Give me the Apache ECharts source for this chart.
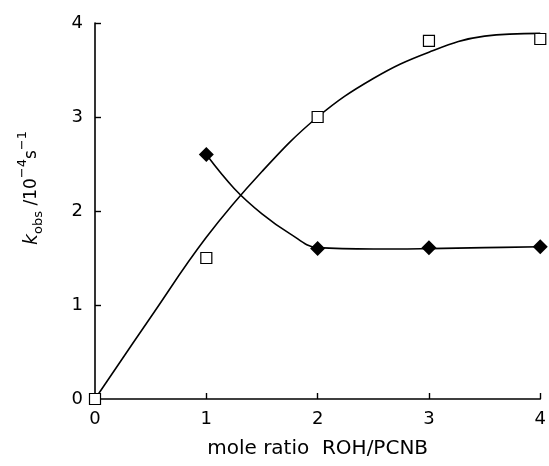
<!DOCTYPE html>
<html>
<head>
<meta charset="utf-8">
<script src="https://cdn.jsdelivr.net/npm/echarts@6/dist/echarts.min.js"></script>
<style>
  html, body { margin: 0; padding: 0; background: #fff; }
  #chart { width: 549px; height: 466px; }
</style>
</head>
<body>
<div id="chart"></div>
<script>
// Measured rate constants (open squares and filled diamonds)
const squareX = [0, 1, 2, 3, 4];
const squareY = [0, 1.5, 3.0, 3.81, 3.83];
const diamondX = [1, 2, 3, 4];
const diamondY = [2.6, 1.6, 1.61, 1.62];

// Hand-drawn trend curves through the data
const squareCurveX = [0, 0.5, 1.0, 1.5, 2.0, 2.5, 3.0, 3.5, 4.0];
const squareCurveY = [0, 0.87, 1.72, 2.42, 3.0, 3.41, 3.69, 3.86, 3.89];
const diamondCurveX = [1, 1.25, 1.5, 1.75, 2.0, 2.5, 3.0, 3.5, 4.0];
const diamondCurveY = [2.6, 2.24, 1.97, 1.76, 1.61, 1.595, 1.6, 1.61, 1.62];

const xTicks = [0, 1, 2, 3, 4];
const yTicks = [0, 1, 2, 3, 4];

const FONT = 'DejaVu Sans';
const zip = (xs, ys) => xs.map((x, i) => [x, ys[i]]);

const chart = echarts.init(document.getElementById('chart'));
chart.setOption({
  animation: false,
  backgroundColor: '#ffffff',
  grid: { left: 95, right: 8, top: 23, bottom: 67 },
  xAxis: {
    type: 'value',
    min: xTicks[0], max: xTicks[xTicks.length - 1], interval: 1,
    axisLine: { lineStyle: { color: '#000', width: 1.6 } },
    axisTick: { inside: true, length: 6, lineStyle: { color: '#000', width: 1.4 } },
    splitLine: { show: false },
    axisLabel: { color: '#000', fontFamily: FONT, fontSize: 18, margin: 11 },
    name: 'mole ratio  ROH/PCNB',
    nameLocation: 'middle',
    nameGap: 40,
    nameTextStyle: { color: '#000', fontFamily: FONT, fontSize: 20 }
  },
  yAxis: {
    type: 'value',
    min: yTicks[0], max: yTicks[yTicks.length - 1], interval: 1,
    axisLine: { lineStyle: { color: '#000', width: 1.6 } },
    axisTick: { inside: true, length: 6, lineStyle: { color: '#000', width: 1.4 } },
    splitLine: { show: false },
    axisLabel: { color: '#000', fontFamily: FONT, fontSize: 18, margin: 12 }
  },
  graphic: [
    {
      type: 'text',
      x: 32, y: 188,
      rotation: Math.PI / 2,
      style: {
        text: '{k|k}{sub|obs}{t| /10}{sup|−4}{t|s}{sup|−1}',
        align: 'center',
        verticalAlign: 'middle',
        fill: '#000',
        font: '17px "DejaVu Sans"',
        rich: {
          k: { fontFamily: FONT, fontStyle: 'italic', fontSize: 19, lineHeight: 32, verticalAlign: 'middle', fill: '#000' },
          t: { fontFamily: FONT, fontSize: 17, lineHeight: 32, verticalAlign: 'middle', fill: '#000' },
          sub: { fontFamily: FONT, fontSize: 13, lineHeight: 32, verticalAlign: 'bottom', fill: '#000', padding: [0, 0, 3, 0] },
          sup: { fontFamily: FONT, fontSize: 13, lineHeight: 32, verticalAlign: 'top', fill: '#000' }
        }
      }
    }
  ],
  series: [
    {
      type: 'line', data: zip(squareCurveX, squareCurveY),
      smooth: 0.4, showSymbol: false, silent: true,
      lineStyle: { color: '#000', width: 1.6 }, z: 2
    },
    {
      type: 'line', data: zip(diamondCurveX, diamondCurveY),
      smooth: 0.4, showSymbol: false, silent: true,
      lineStyle: { color: '#000', width: 1.6 }, z: 2
    },
    {
      type: 'scatter', data: zip(squareX, squareY),
      symbol: 'rect', symbolSize: 11,
      itemStyle: { color: '#fff', borderColor: '#000', borderWidth: 1.2, opacity: 1 }, z: 4
    },
    {
      type: 'scatter', data: zip(diamondX, diamondY),
      symbol: 'diamond', symbolSize: [15, 15],
      itemStyle: { color: '#000', opacity: 1 }, z: 4
    }
  ]
});
</script>
</body>
</html>
